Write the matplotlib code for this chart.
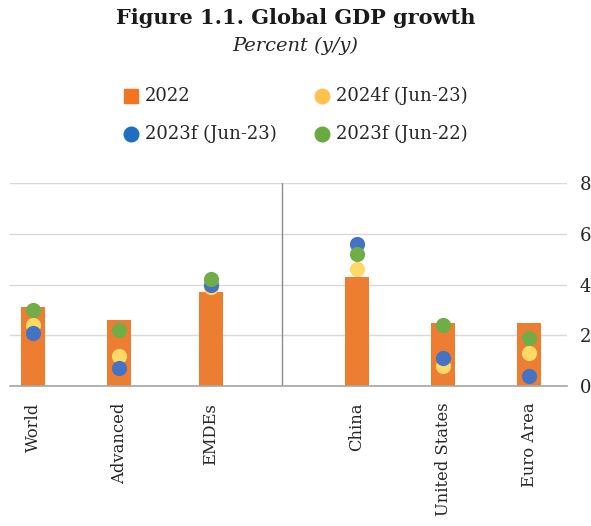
import matplotlib
matplotlib.use('Agg')
import matplotlib.pyplot as plt
from matplotlib.lines import Line2D

# Datos: crecimiento del PIB (%, interanual)
regiones = ['World', 'Advanced', 'EMDEs', 'China', 'United States', 'Euro Area']
pib_2022 = [3.1, 2.6, 3.7, 4.3, 2.5, 2.5]
f2024_jun23 = [2.4, 1.2, 3.9, 4.6, 0.8, 1.3]
f2023_jun23 = [2.1, 0.7, 4.0, 5.6, 1.1, 0.4]
f2023_jun22 = [3.0, 2.2, 4.2, 5.2, 2.4, 1.9]

# posiciones en el eje: hueco entre agregados y paises
xpos = [0, 0.98, 2.02, 3.68, 4.66, 5.64]
x_sep = 2.83

serif = 'DejaVu Serif'
plt.rcParams['font.family'] = serif

fig = plt.figure(figsize=(5.91, 5.26), dpi=100)
ax = fig.add_axes([10 / 591, 140 / 526, 557 / 591, 203 / 526])

ax.bar(xpos, pib_2022, width=0.27, color='#ED7D31', zorder=2)
ax.scatter(xpos, f2024_jun23, s=120, color='#FFD966', zorder=3, linewidths=0)
ax.scatter(xpos, f2023_jun23, s=120, color='#4472C4', zorder=4, linewidths=0)
ax.scatter(xpos, f2023_jun22, s=120, color='#70AD47', zorder=5, linewidths=0)

ax.axvline(x_sep, color='#8C8C8C', lw=1.0, zorder=1)

ax.set_xlim(-0.261, 6.068)
ax.set_ylim(0, 8)
ax.set_yticks([0, 2, 4, 6, 8])
ax.yaxis.tick_right()
ax.tick_params(axis='y', length=0, pad=9, labelsize=13, colors='#262626')
ax.grid(axis='y', color='#D9D9D9', lw=1.0, zorder=0)
ax.set_axisbelow(True)
for lado in ['top', 'left', 'right']:
    ax.spines[lado].set_visible(False)
ax.spines['bottom'].set_color('#A6A6A6')
ax.spines['bottom'].set_linewidth(1.2)

ax.set_xticks(xpos)
ax.set_xticklabels(regiones, rotation=90, fontsize=11.8, color='#262626')
ax.tick_params(axis='x', length=0, pad=12)

# titulo y subtitulo
fig.text(0.5, 1 - 18 / 526, 'Figure 1.1. Global GDP growth', ha='center', va='center',
         fontsize=15, fontweight='heavy', color='#1a1a1a')
fig.text(0.5, 1 - 46 / 526, 'Percent (y/y)', ha='center', va='center',
         fontsize=14, style='italic', color='#262626')

# leyenda manual en dos columnas
entradas = [
    ('s', '#F47321', '2022', 131, 96),
    ('o', '#FFC34D', '2024f (Jun-23)', 322, 96),
    ('o', '#1F6FC0', '2023f (Jun-23)', 131, 134),
    ('o', '#6AAB3F', '2023f (Jun-22)', 322, 134),
]
for marca, color, texto, px, py in entradas:
    fig.add_artist(Line2D([px / 591], [1 - py / 526], marker=marca, color=color,
                          markersize=10.5 if marca == 'o' else 10, linestyle='none',
                          transform=fig.transFigure))
    fig.text((px + 14) / 591, 1 - py / 526, texto, ha='left', va='center',
             fontsize=13, color='#262626')

fig.savefig('out.png', dpi=100)
